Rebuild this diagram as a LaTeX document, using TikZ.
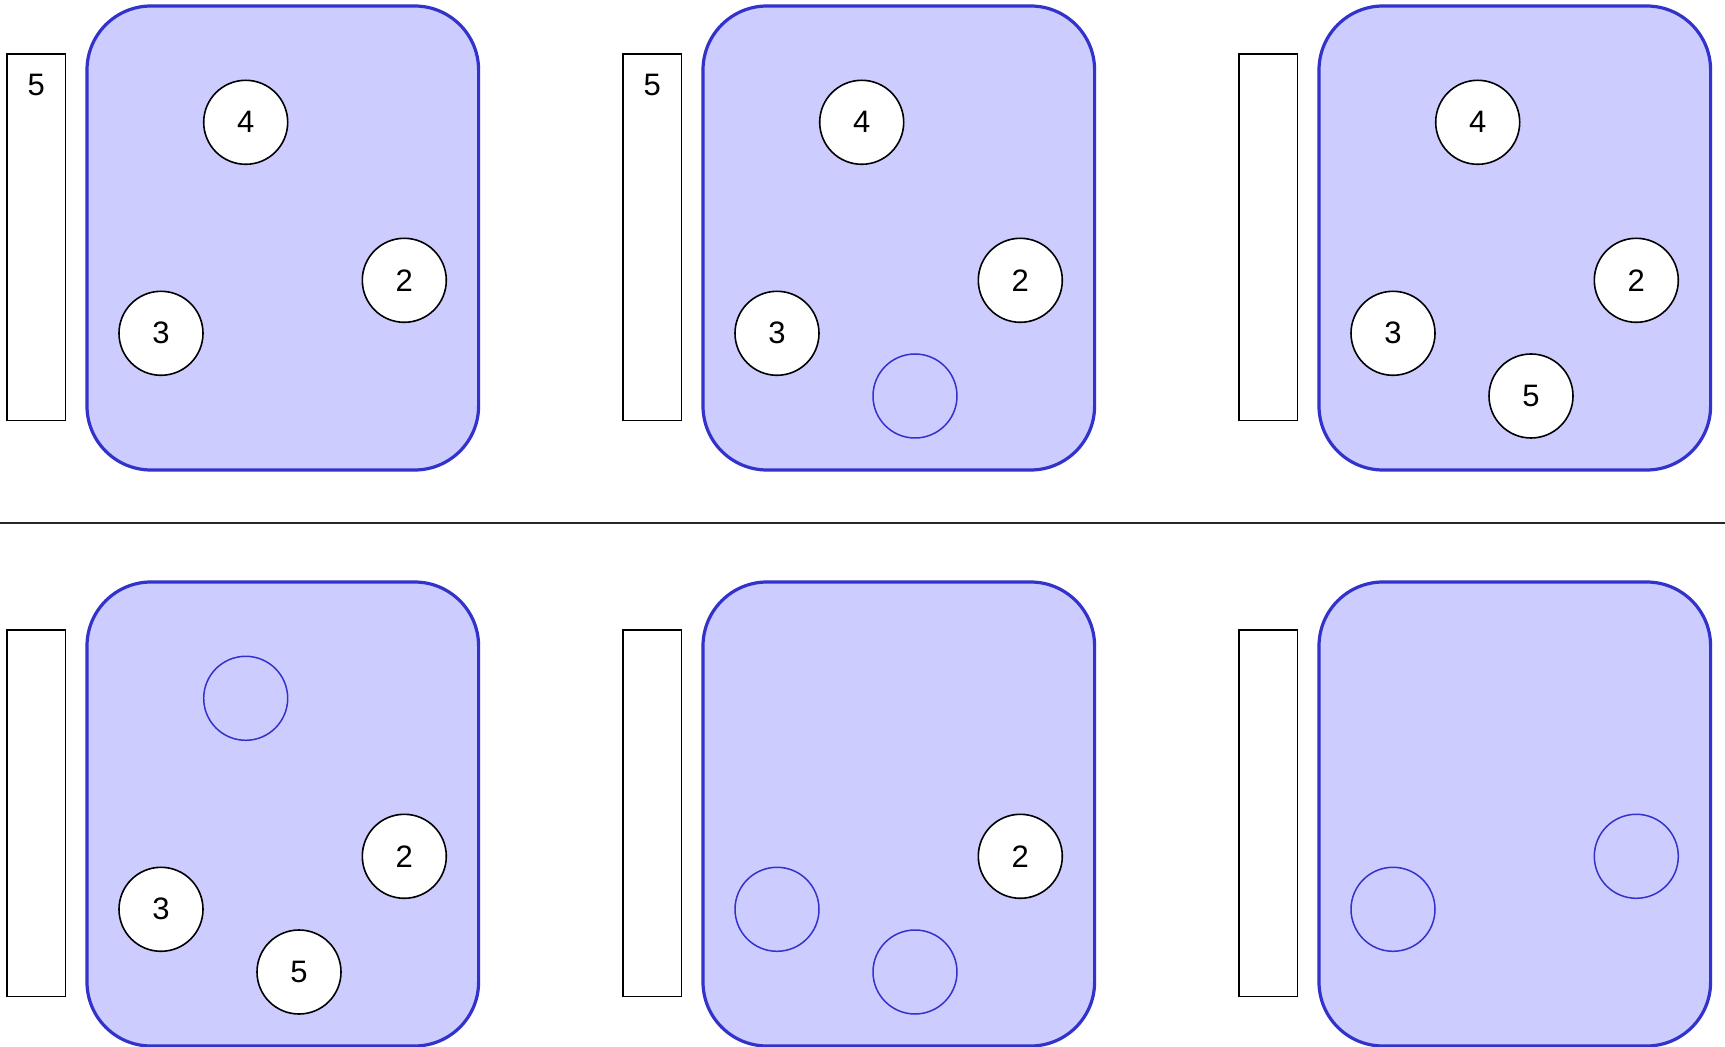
\documentclass[tikz,border=0pt]{standalone}
\usepackage{fontspec}
\setmainfont{Liberation Sans}
\definecolor{boxfill}{HTML}{CCCCFF}
\definecolor{boxline}{HTML}{3333CC}
\begin{document}
\begin{tikzpicture}[x=0.5pt,y=-0.5pt,
 panel/.style={draw=boxline, fill=boxfill, line width=1.6pt, rounded corners=32pt, minimum width=195.8pt, minimum height=232pt, inner sep=0pt},
 bar/.style={draw=black, fill=white, line width=0.75pt, minimum width=29.4pt, minimum height=183.2pt, inner sep=0pt},
 ball/.style={circle, draw=black, fill=white, line width=0.8pt, minimum size=42pt, inner sep=0pt, font=\fontsize{15.5}{18}\selectfont},
 ghost/.style={circle, draw=boxline, line width=0.75pt, minimum size=42pt, inner sep=0pt},
 barlabel/.style={font=\fontsize{15.5}{18}\selectfont, inner sep=0pt},
 divider/.style={draw=black!85, line width=0.75pt}]
\useasboundingbox (0,0) rectangle (1725,1047);

% divider
\coordinate (divL) at (0,523);
\coordinate (divR) at (1725,523);
\draw[divider] (divL) -- (divR);

% panel 1
\node[bar] (bar1) at (36.3,237.2) {};
\node[barlabel] (bar1t) at ([yshift=-16pt]bar1.north) {5};
\node[panel] (box1) at (282.8,238) {};
\node[ball] (p1c4) at (245.7,122.3) {4};
\node[ball] (p1c2) at (404.3,280.3) {2};
\node[ball] (p1c3) at (161,333.3) {3};

% panel 2
\node[bar] (bar2) at (652.3,237.2) {};
\node[barlabel] (bar2t) at ([yshift=-16pt]bar2.north) {5};
\node[panel] (box2) at (898.8,238) {};
\node[ball] (p2c4) at (861.7,122.3) {4};
\node[ball] (p2c2) at (1020.3,280.3) {2};
\node[ball] (p2c3) at (777,333.3) {3};
\node[ghost] (p2g5) at (915,396) {};

% panel 3
\node[bar] (bar3) at (1268.3,237.2) {};
\node[panel] (box3) at (1514.8,238) {};
\node[ball] (p3c4) at (1477.7,122.3) {4};
\node[ball] (p3c2) at (1636.3,280.3) {2};
\node[ball] (p3c3) at (1393,333.3) {3};
\node[ball] (p3c5) at (1531,396) {5};

% panel 4
\node[bar] (bar4) at (36.3,813.2) {};
\node[panel] (box4) at (282.8,814) {};
\node[ghost] (p4g4) at (245.7,698.3) {};
\node[ball] (p4c2) at (404.3,856.3) {2};
\node[ball] (p4c3) at (161,909.3) {3};
\node[ball] (p4c5) at (299,972) {5};

% panel 5
\node[bar] (bar5) at (652.3,813.2) {};
\node[panel] (box5) at (898.8,814) {};
\node[ball] (p5c2) at (1020.3,856.3) {2};
\node[ghost] (p5g3) at (777,909.3) {};
\node[ghost] (p5g5) at (915,972) {};

% panel 6
\node[bar] (bar6) at (1268.3,813.2) {};
\node[panel] (box6) at (1514.8,814) {};
\node[ghost] (p6g3) at (1393,909.3) {};
\node[ghost] (p6g2) at (1636.3,856.3) {};
\end{tikzpicture}
\end{document}
